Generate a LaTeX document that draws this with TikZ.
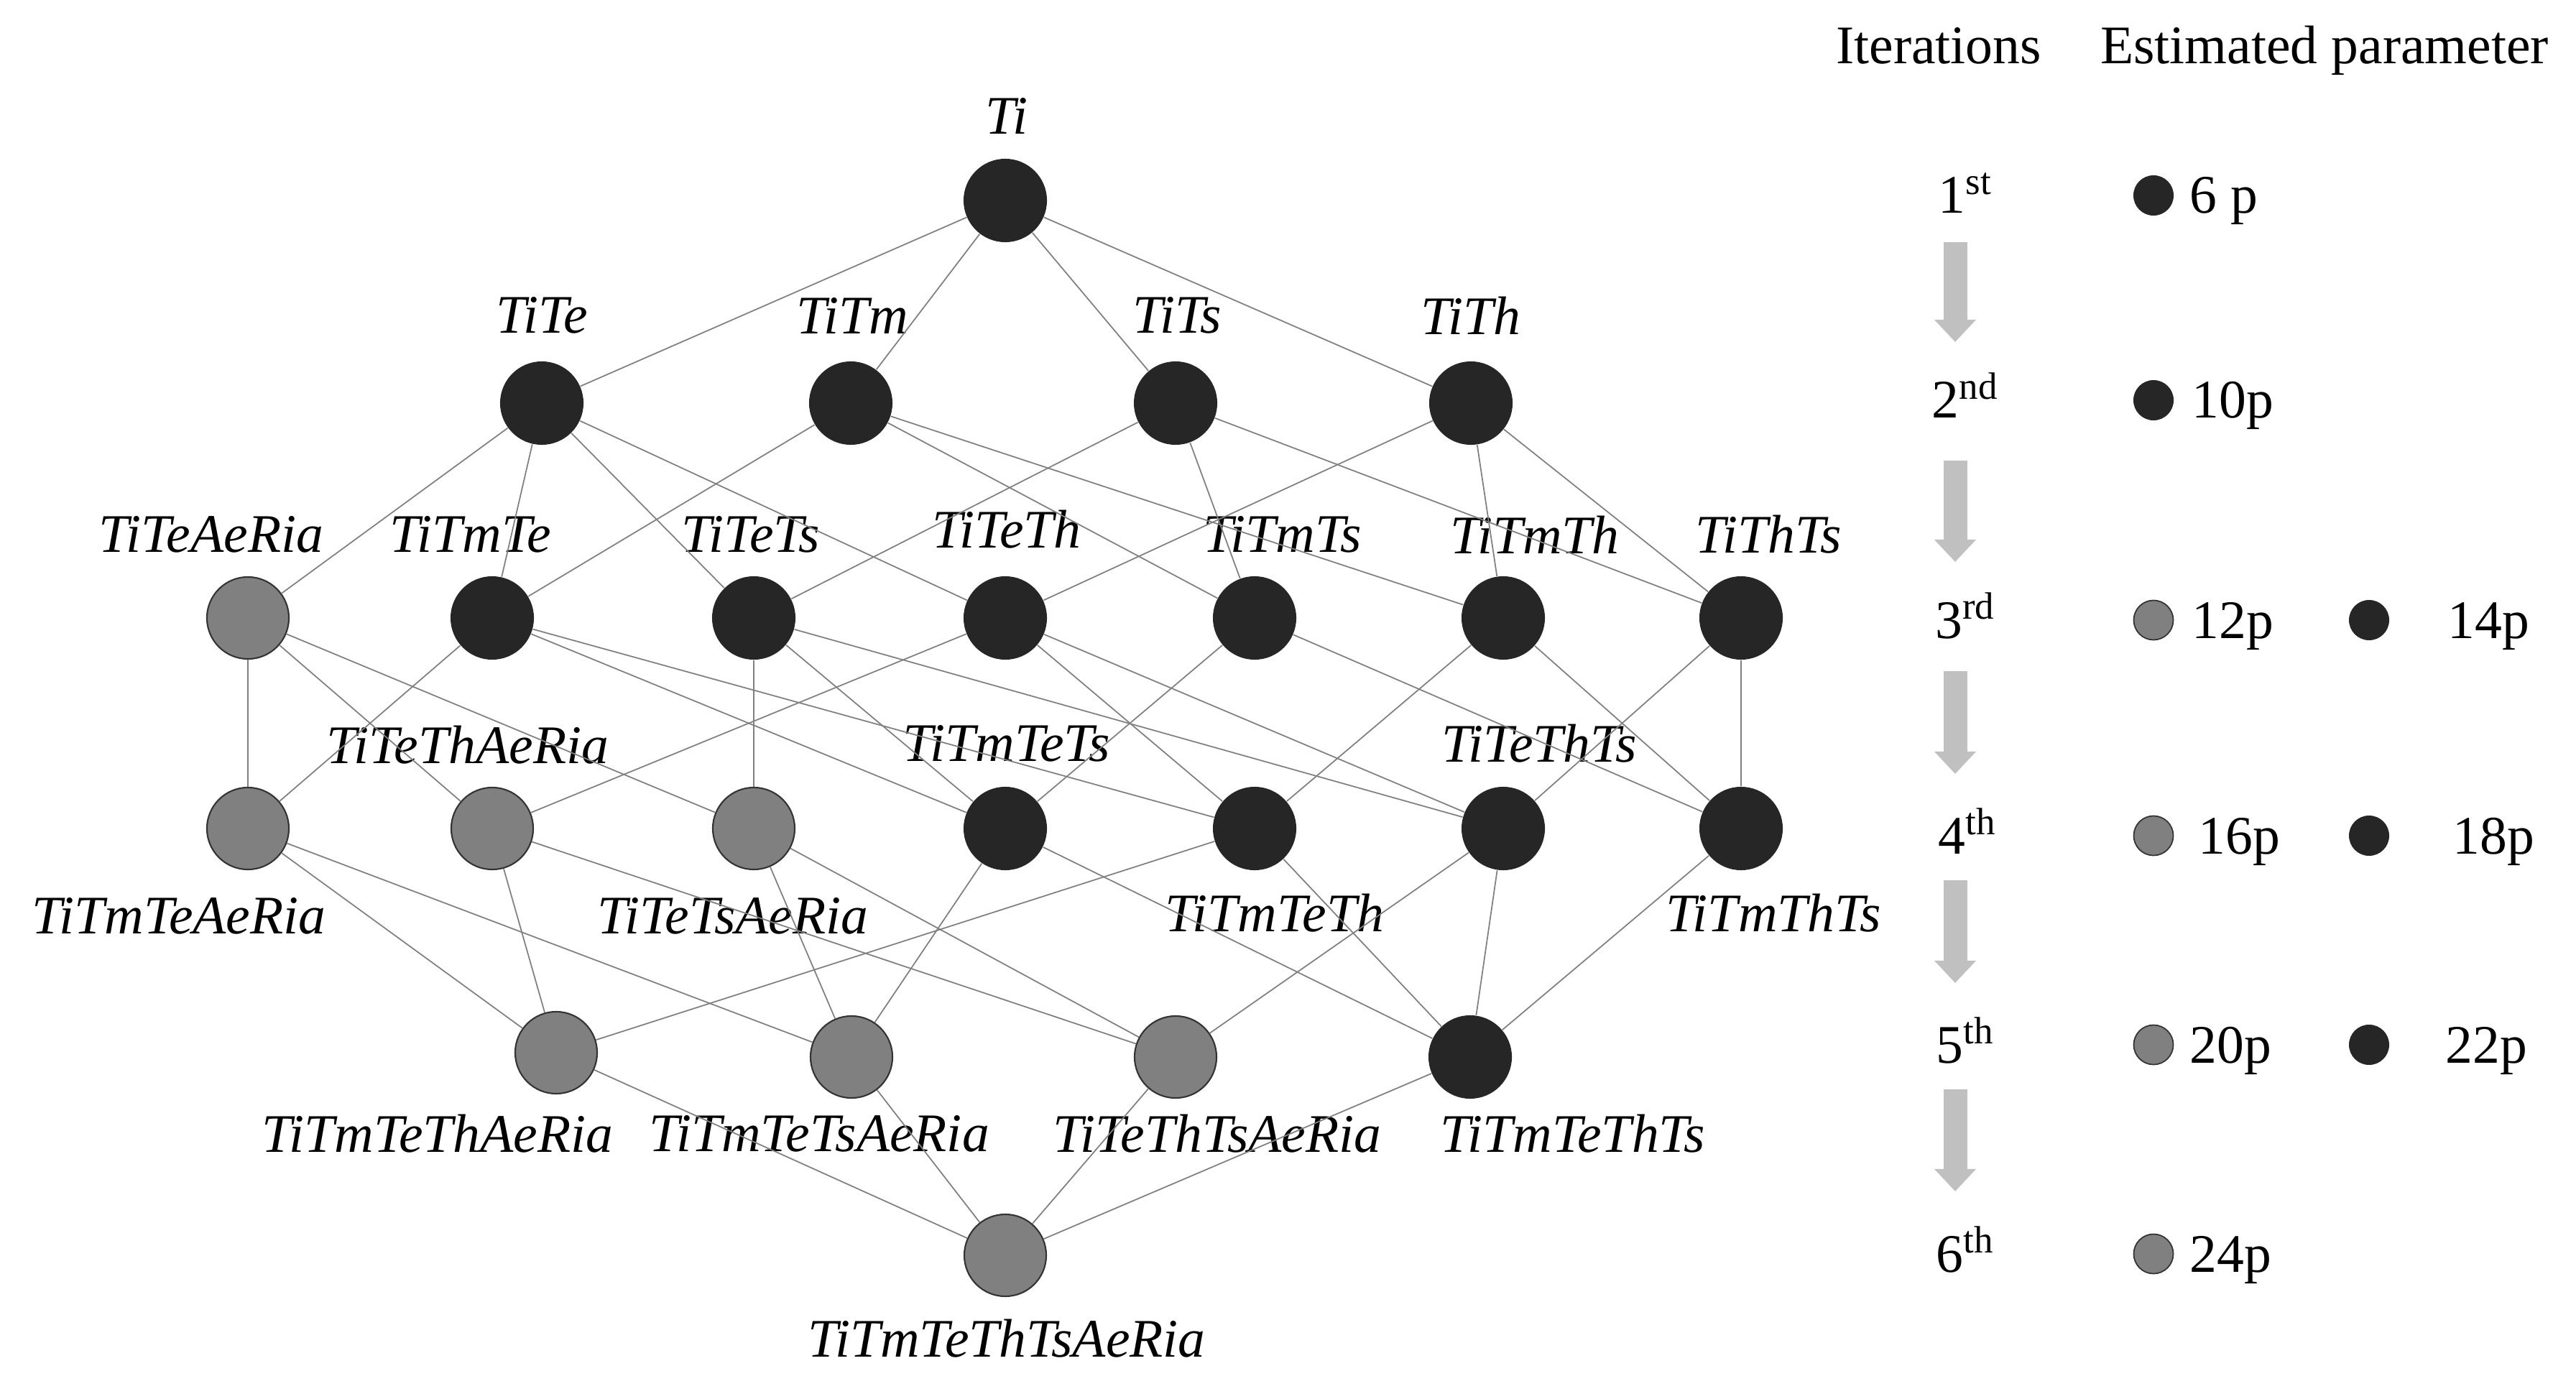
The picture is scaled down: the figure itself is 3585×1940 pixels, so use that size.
\documentclass[tikz,border=0pt]{standalone}
\usepackage{fontspec}
\setmainfont{Liberation Serif}
\usetikzlibrary{arrows.meta}
\definecolor{nodeblack}{HTML}{262626}
\definecolor{nodegray}{HTML}{808080}
\definecolor{nodeline}{HTML}{333333}
\definecolor{edgegray}{HTML}{808080}
\definecolor{arrowgray}{HTML}{C0C0C0}
\begin{document}
\begin{tikzpicture}[x=0.01cm,y=-0.01cm,
  bnode/.style={circle,fill=nodeblack,minimum size=1.16cm,inner sep=0pt},
  gnode/.style={circle,fill=nodegray,draw=nodeline,line width=0.6pt,minimum size=1.14cm,inner sep=0pt},
  lab/.style={font=\fontsize{21.5}{24}\selectfont\itshape,inner sep=0pt},
  txt/.style={font=\fontsize{21.5}{24}\selectfont,inner sep=0pt},
  edge/.style={draw=edgegray,line width=0.5pt},
  bmark/.style={circle,fill=nodeblack,minimum size=0.56cm,inner sep=0pt},
  gmark/.style={circle,fill=nodegray,draw=nodeline,line width=0.5pt,minimum size=0.55cm,inner sep=0pt},
  bigarrow/.style={draw=arrowgray,line width=0.33cm,-{Triangle[width=0.56cm,length=0.31cm]}}
]
\useasboundingbox (0,0) rectangle (3585,1940);

% ---------- nodes ----------
\node[bnode] (Ti) at (1399,279) {};
\node[bnode] (TiTe) at (754,561) {};
\node[bnode] (TiTm) at (1184,561) {};
\node[bnode] (TiTs) at (1636,561) {};
\node[bnode] (TiTh) at (2047,561) {};

\node[gnode] (TiTeAeRia) at (345,860) {};
\node[bnode] (TiTmTe) at (685,860) {};
\node[bnode] (TiTeTs) at (1049,860) {};
\node[bnode] (TiTeTh) at (1399,860) {};
\node[bnode] (TiTmTs) at (1746,860) {};
\node[bnode] (TiTmTh) at (2092,860) {};
\node[bnode] (TiThTs) at (2423,860) {};

\node[gnode] (TiTmTeAeRia) at (345,1153) {};
\node[gnode] (TiTeThAeRia) at (685,1153) {};
\node[gnode] (TiTeTsAeRia) at (1049,1153) {};
\node[bnode] (TiTmTeTs) at (1399,1153) {};
\node[bnode] (TiTmTeTh) at (1746,1153) {};
\node[bnode] (TiTeThTs) at (2092,1153) {};
\node[bnode] (TiTmThTs) at (2423,1153) {};

\node[gnode] (TiTmTeThAeRia) at (774,1465) {};
\node[gnode] (TiTmTeTsAeRia) at (1185,1471) {};
\node[gnode] (TiTeThTsAeRia) at (1636,1471) {};
\node[bnode] (TiTmTeThTs) at (2046,1471) {};

\node[gnode] (TiTmTeThTsAeRia) at (1399,1747) {};

% ---------- labels ----------
\node[lab] (lTi) at (1401,161) {Ti};
\node[lab] (lTiTe) at (754,439) {TiTe};
\node[lab] (lTiTm) at (1186,439) {TiTm};
\node[lab] (lTiTs) at (1638,439) {TiTs};
\node[lab] (lTiTh) at (2047,439) {TiTh};

\node[lab] (lTiTeAeRia) at (294,744) {TiTeAeRia};
\node[lab] (lTiTmTe) at (655,744) {TiTmTe};
\node[lab] (lTiTeTs) at (1045,744) {TiTeTs};
\node[lab] (lTiTeTh) at (1401,737) {TiTeTh};
\node[lab] (lTiTmTs) at (1785,744) {TiTmTs};
\node[lab] (lTiTmTh) at (2136,744) {TiTmTh};
\node[lab] (lTiThTs) at (2461,744) {TiThTs};

\node[lab] (lTiTeThAeRia) at (651,1037) {TiTeThAeRia};
\node[lab] (lTiTmTeTs) at (1401,1035) {TiTmTeTs};
\node[lab] (lTiTeThTs) at (2142,1035) {TiTeThTs};
\node[lab] (lTiTmTeAeRia) at (249,1275) {TiTmTeAeRia};
\node[lab] (lTiTeTsAeRia) at (1020,1275) {TiTeTsAeRia};
\node[lab] (lTiTmTeTh) at (1774,1271) {TiTmTeTh};
\node[lab] (lTiTmThTs) at (2468,1271) {TiTmThTs};

\node[lab] (lTiTmTeThAeRia) at (609,1578) {TiTmTeThAeRia};
\node[lab] (lTiTmTeTsAeRia) at (1140,1578) {TiTmTeTsAeRia};
\node[lab] (lTiTeThTsAeRia) at (1694,1578) {TiTeThTsAeRia};
\node[lab] (lTiTmTeThTs) at (2189,1578) {TiTmTeThTs};
\node[lab] (lTiTmTeThTsAeRia) at (1401,1863) {TiTmTeThTsAeRia};

% ---------- edges ----------
\foreach \a/\b in {Ti/TiTe,Ti/TiTm,Ti/TiTs,Ti/TiTh,
  TiTe/TiTeAeRia,TiTe/TiTmTe,TiTe/TiTeTs,TiTe/TiTeTh,
  TiTm/TiTmTe,TiTm/TiTmTs,TiTm/TiTmTh,
  TiTs/TiTeTs,TiTs/TiTmTs,TiTs/TiThTs,
  TiTh/TiTeTh,TiTh/TiTmTh,TiTh/TiThTs,
  TiTeAeRia/TiTmTeAeRia,TiTeAeRia/TiTeThAeRia,TiTeAeRia/TiTeTsAeRia,
  TiTmTe/TiTmTeAeRia,TiTmTe/TiTmTeTs,TiTmTe/TiTmTeTh,
  TiTeTs/TiTeTsAeRia,TiTeTs/TiTmTeTs,TiTeTs/TiTeThTs,
  TiTeTh/TiTeThAeRia,TiTeTh/TiTmTeTh,TiTeTh/TiTeThTs,
  TiTmTs/TiTmTeTs,TiTmTs/TiTmThTs,
  TiTmTh/TiTmTeTh,TiTmTh/TiTmThTs,
  TiThTs/TiTeThTs,TiThTs/TiTmThTs,
  TiTmTeAeRia/TiTmTeThAeRia,TiTmTeAeRia/TiTmTeTsAeRia,
  TiTeThAeRia/TiTmTeThAeRia,TiTeThAeRia/TiTeThTsAeRia,
  TiTeTsAeRia/TiTmTeTsAeRia,TiTeTsAeRia/TiTeThTsAeRia,
  TiTmTeTs/TiTmTeTsAeRia,TiTmTeTs/TiTmTeThTs,
  TiTmTeTh/TiTmTeThAeRia,TiTmTeTh/TiTmTeThTs,
  TiTeThTs/TiTeThTsAeRia,TiTeThTs/TiTmTeThTs,
  TiTmThTs/TiTmTeThTs,
  TiTmTeThAeRia/TiTmTeThTsAeRia,TiTmTeTsAeRia/TiTmTeThTsAeRia,
  TiTeThTsAeRia/TiTmTeThTsAeRia,TiTmTeThTs/TiTmTeThTsAeRia}
  {\draw[edge] (\a) -- (\b);}

% ---------- right panel ----------
\node[txt,anchor=base] (hIt) at (2698,89) {Iterations};
\node[txt,anchor=base] (hEst) at (3235,89) {Estimated parameter};

\node[txt,anchor=base] (it1) at (2735,297) {1\textsuperscript{st}};
\node[txt,anchor=base] (it2) at (2735,582) {2\textsuperscript{nd}};
\node[txt,anchor=base] (it3) at (2735,888) {3\textsuperscript{rd}};
\node[txt,anchor=base] (it4) at (2738,1188) {4\textsuperscript{th}};
\node[txt,anchor=base] (it5) at (2735,1479) {5\textsuperscript{th}};
\node[txt,anchor=base] (it6) at (2735,1770) {6\textsuperscript{th}};

\coordinate (ar1s) at (2721,337); \coordinate (ar1e) at (2721,476);
\coordinate (ar2s) at (2721,641); \coordinate (ar2e) at (2721,782);
\coordinate (ar3s) at (2721,934); \coordinate (ar3e) at (2721,1077);
\coordinate (ar4s) at (2721,1225); \coordinate (ar4e) at (2721,1368);
\coordinate (ar5s) at (2721,1516); \coordinate (ar5e) at (2721,1658);
\foreach \i in {1,...,5} {\draw[bigarrow] (ar\i s) -- (ar\i e);}

\node[bmark] (m1) at (2997,272) {};
\node[txt,anchor=base west] (p1) at (3047,297) {6 p};
\node[bmark] (m2) at (2997,557) {};
\node[txt,anchor=base west] (p2) at (3050,582) {10p};
\node[gmark] (m3a) at (2997,863) {};
\node[txt,anchor=base west] (p3a) at (3050,888) {12p};
\node[bmark] (m3b) at (3297,863) {};
\node[txt,anchor=base west] (p3b) at (3406,888) {14p};
\node[gmark] (m4a) at (2997,1163) {};
\node[txt,anchor=base west] (p4a) at (3059,1188) {16p};
\node[bmark] (m4b) at (3297,1163) {};
\node[txt,anchor=base west] (p4b) at (3413,1188) {18p};
\node[gmark] (m5a) at (2997,1454) {};
\node[txt,anchor=base west] (p5a) at (3047,1479) {20p};
\node[bmark] (m5b) at (3297,1454) {};
\node[txt,anchor=base west] (p5b) at (3403,1479) {22p};
\node[gmark] (m6) at (2997,1745) {};
\node[txt,anchor=base west] (p6) at (3047,1770) {24p};
\end{tikzpicture}
\end{document}
